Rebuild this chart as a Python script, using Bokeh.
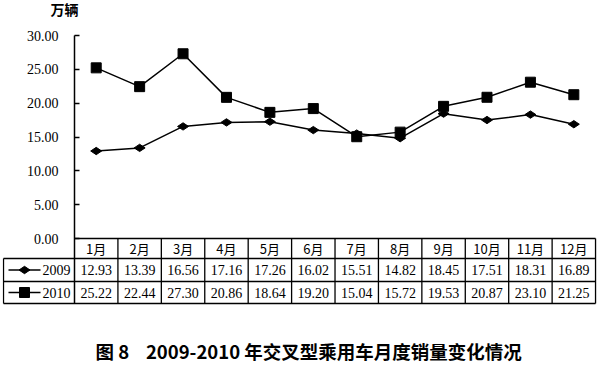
import math
from bokeh.plotting import figure
from bokeh.models import FixedTicker, NumeralTickFormatter, Title, Range1d
from bokeh.core.properties import value
from bokeh.embed import file_html
from bokeh.resources import INLINE

# ---- data ----
months = ["1月", "2月", "3月", "4月", "5月", "6月", "7月", "8月", "9月", "10月", "11月", "12月"]
sales_2009 = [12.93, 13.39, 16.56, 17.16, 17.26, 16.02, 15.51, 14.82, 18.45, 17.51, 18.31, 16.89]
sales_2010 = [25.22, 22.44, 27.30, 20.86, 18.64, 19.20, 15.04, 15.72, 19.53, 20.87, 23.10, 21.25]
series_names = ["2009", "2010"]
y_ticks = [0, 5, 10, 15, 20, 25, 30]
unit_label = "万辆"
chart_title = "图 8" + "\u00a0" * 4 + "2009-2010 年交叉型乘用车月度销量变化情况"

# ---- geometry (pixels -> data) ----
PX_X = 43.42            # pixels per month column
AXIS_PX = 74            # x pixel of y axis
FRAME_L, FRAME_R = 2, 597
FRAME_T, FRAME_B = 0, 335
TOP_PX = 35             # pixel of value 30
ZERO_PX = 238
PX_Y = (ZERO_PX - TOP_PX) / 30.0

def xd(px):
    return 0.5 + (px - AXIS_PX) / PX_X

def yd(py):
    return -(py - ZERO_PX) / PX_Y

x_idx = list(range(1, len(months) + 1))
y_max = y_ticks[-1]

p = figure(width=600, height=365, output_backend="svg", toolbar_location=None,
           x_range=Range1d(xd(FRAME_L), xd(FRAME_R)),
           y_range=Range1d(yd(FRAME_B), yd(FRAME_T)),
           min_border_left=FRAME_L, min_border_right=600 - FRAME_R,
           min_border_top=FRAME_T, min_border_bottom=365 - FRAME_B)
p.outline_line_color = None
p.xgrid.visible = False
p.ygrid.visible = False
p.background_fill_color = "white"
p.border_fill_color = "white"

# y axis drawn at the left edge of the month columns
ya = p.yaxis[0]
ya.fixed_location = 0.5
ya.ticker = FixedTicker(ticks=y_ticks)
ya.formatter = NumeralTickFormatter(format="0.00")
ya.major_tick_in = 5
ya.major_tick_out = 0
ya.minor_tick_line_color = None
ya.axis_line_color = None
ya.major_tick_line_color = "black"
ya.major_tick_line_width = 1.5
ya.major_label_standoff = 16
ya.major_label_text_font = "Liberation Serif"
ya.major_label_text_font_size = "14px"
ya.major_label_text_color = "black"

# axis line (stops at the top tick) and continues as the table border
p.segment(x0=[0.5], y0=[y_max], x1=[0.5], y1=[yd(303)], line_color="black", line_width=1.5)

# unit label above the axis
p.text(x=[xd(50)], y=[yd(8)], text=[unit_label], text_align="left", text_baseline="middle",
       text_font=value("Noto Sans CJK SC"), text_font_size="14px", text_font_style="bold",
       text_color="black")

# x axis: month labels in the table header row
xa = p.xaxis[0]
xa.fixed_location = 0
xa.ticker = FixedTicker(ticks=x_idx)
xa.major_label_overrides = {i: m for i, m in zip(x_idx, months)}
xa.axis_line_color = None
xa.major_tick_line_color = None
xa.major_tick_in = 0
xa.major_tick_out = 0
xa.minor_tick_line_color = None
xa.major_label_standoff = 0
xa.major_label_text_font = "Noto Sans CJK SC"
xa.major_label_text_font_size = "13px"
xa.major_label_text_color = "black"

# ---- table grid ----
row_px = [258, 281, 303]
right_x = 12.5
left_x = xd(3)
# zero line
p.segment(x0=[0.5], y0=[0], x1=[right_x], y1=[0], line_color="black", line_width=1.5)
# horizontal lines
p.segment(x0=[left_x] * 3, y0=[yd(r) for r in row_px], x1=[right_x] * 3,
          y1=[yd(r) for r in row_px], line_color="black", line_width=1.3)
# vertical lines
vx = [i + 0.5 for i in range(1, 13)]
p.segment(x0=vx, y0=[0] * len(vx), x1=vx, y1=[yd(303)] * len(vx), line_color="black", line_width=1.3)
p.segment(x0=[left_x], y0=[yd(258)], x1=[left_x], y1=[yd(303)], line_color="black", line_width=1.3)

# ---- series ----
p.line(x_idx, sales_2009, line_color="black", line_width=1.5)
p.scatter(x_idx, sales_2009, marker="diamond", size=11, angle=math.pi / 2, color="black")
p.line(x_idx, sales_2010, line_color="black", line_width=1.5)
p.scatter(x_idx, sales_2010, marker="square", size=10, color="black")

# ---- table values ----
row_c = [yd((258 + 281) / 2), yd((281 + 303) / 2)]
for yc, vals in zip(row_c, [sales_2009, sales_2010]):
    p.text(x=x_idx, y=[yc] * len(x_idx), text=[f"{v:.2f}" for v in vals],
           text_align="center", text_baseline="middle",
           text_font=value("Liberation Serif"), text_font_size="14px", text_color="black")

# legend column
markers = ["diamond", "square"]
angles = [math.pi / 2, 0]
msizes = [11, 10]
for yc, name, mk, ang, ms in zip(row_c, series_names, markers, angles, msizes):
    p.segment(x0=[xd(8)], y0=[yc], x1=[xd(40)], y1=[yc], line_color="black", line_width=1.5)
    p.scatter([xd(24)], [yc], marker=mk, size=ms, angle=ang, color="black")
    p.text(x=[xd(42)], y=[yc], text=[name], text_align="left", text_baseline="middle",
           text_font=value("Liberation Serif"), text_font_size="14px", text_color="black")

# ---- title ----
t_main = Title(text=chart_title, align="left", offset=93, text_font="Noto Sans CJK SC",
               text_font_size="18.5px", text_font_style="bold", text_color="black",
               standoff=0, vertical_align="bottom")
p.add_layout(t_main, "below")

open("out.html", "w").write(file_html(p, INLINE))
